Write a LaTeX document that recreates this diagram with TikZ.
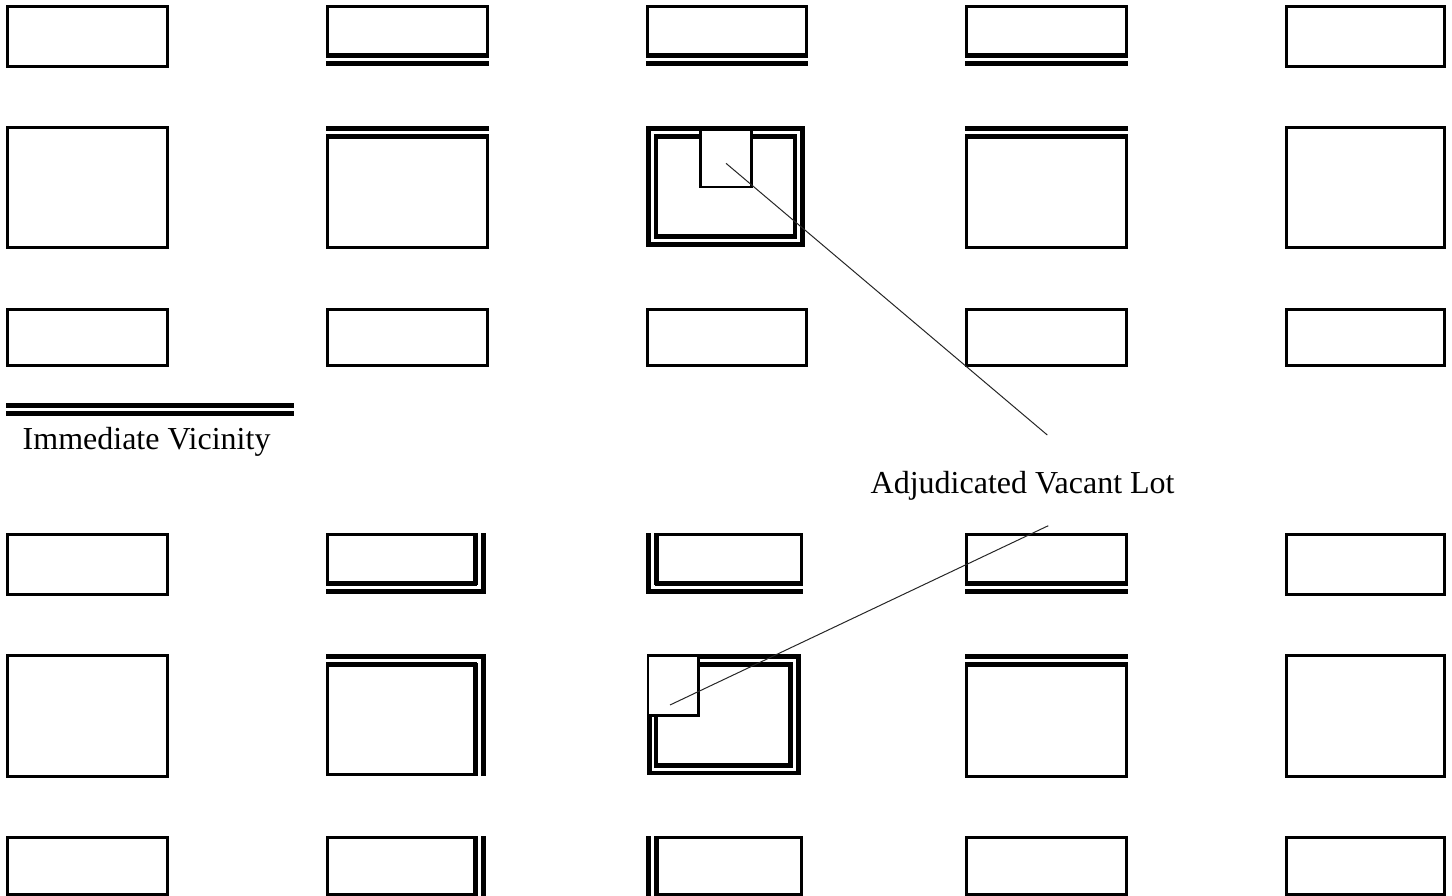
\documentclass[tikz,border=0pt]{standalone}
\usepackage{fontspec}
\setmainfont{Liberation Serif}
\tikzset{
  thinlot/.style={line width=3pt, line join=miter},
  dbl/.style={line width=4.7pt, line cap=butt},
  dblrect/.style={line width=4.8pt, line join=miter},
  leader/.style={line width=1pt, black!85},
  lbl/.style={anchor=base west, inner sep=0pt, font=\fontsize{32}{38}\selectfont},
  lotsq/.style={line width=2.7pt, fill=white, line join=miter}
}
% x0 y0 x1 y1 L T R B  (flags 1 = double line on that side)
\newcommand\lotbox[8]{%
  \pgfmathsetmacro\lotL{#1+1.5+9*#5}%
  \pgfmathsetmacro\lotT{#2+1.5+9*#6}%
  \pgfmathsetmacro\lotR{#3-1.5-9*#7}%
  \pgfmathsetmacro\lotB{#4-1.5-9*#8}%
  \draw[thinlot] (\lotL,\lotT) rectangle (\lotR,\lotB);
  \ifnum#5=1 \draw[dbl] (\lotL,\lotT-1.5) -- (\lotL,\lotB+1.5); \draw[dbl] (#1+2.35,#2) -- (#1+2.35,#4);\fi
  \ifnum#6=1 \draw[dbl] (\lotL-1.5,\lotT) -- (\lotR+1.5,\lotT); \draw[dbl] (#1,#2+2.35) -- (#3,#2+2.35);\fi
  \ifnum#7=1 \draw[dbl] (\lotR,\lotT-1.5) -- (\lotR,\lotB+1.5); \draw[dbl] (#3-2.35,#2) -- (#3-2.35,#4);\fi
  \ifnum#8=1 \draw[dbl] (\lotL-1.5,\lotB) -- (\lotR+1.5,\lotB); \draw[dbl] (#1,#4-2.35) -- (#3,#4-2.35);\fi
}
\begin{document}
\begin{tikzpicture}[x=1pt,y=-1pt]
\useasboundingbox (0,0) rectangle (1452,896);
% ---------- upper group ----------
% row 1
\lotbox{6}{5}{168.7}{67.7}{0}{0}{0}{0}
\lotbox{326}{5}{489}{65.7}{0}{0}{0}{1}
\lotbox{646}{5}{807.7}{65.7}{0}{0}{0}{1}
\lotbox{965}{5}{1128}{65.7}{0}{0}{0}{1}
\lotbox{1285}{5}{1446}{67.7}{0}{0}{0}{0}
% row 2
\lotbox{6}{126}{168.7}{249.3}{0}{0}{0}{0}
\lotbox{326}{126}{489}{249.3}{0}{1}{0}{0}
\lotbox{965}{126}{1128}{249.3}{0}{1}{0}{0}
\lotbox{1285}{126}{1446}{249.3}{0}{0}{0}{0}
% vacant block (upper)
\draw[dblrect] (656,136.3) rectangle (795,236.8);
\draw[dblrect] (648.4,128.4) rectangle (802.6,244.3);
\draw[lotsq] (700.7,129.7) rectangle (751.3,187);
% row 3
\lotbox{6}{307.7}{168.7}{367.3}{0}{0}{0}{0}
\lotbox{326}{307.7}{489}{367.3}{0}{0}{0}{0}
\lotbox{646}{307.7}{807.7}{367.3}{0}{0}{0}{0}
\lotbox{965}{307.7}{1128}{367.3}{0}{0}{0}{0}
\lotbox{1285}{307.7}{1446}{367.3}{0}{0}{0}{0}
% ---------- legend ----------
\draw[line width=4.4pt] (6,405.5) -- (294,405.5);
\draw[line width=4.4pt] (6,413.5) -- (294,413.5);
\node[lbl] (vicinity) at (22.5,449) {Immediate Vicinity};
% ---------- lower group ----------
% row 4
\lotbox{6}{533.3}{168.7}{596}{0}{0}{0}{0}
\lotbox{326}{533.3}{485.7}{594}{0}{0}{1}{1}
\lotbox{646}{533.3}{803.3}{594}{1}{0}{0}{1}
\lotbox{965}{533.3}{1128}{594}{0}{0}{0}{1}
\lotbox{1285}{533.3}{1446}{596}{0}{0}{0}{0}
% row 5
\lotbox{6}{654.3}{168.7}{777.7}{0}{0}{0}{0}
\lotbox{326}{654.3}{485.7}{776}{0}{1}{1}{0}
\lotbox{965}{654.3}{1128}{777.7}{0}{1}{0}{0}
\lotbox{1285}{654.3}{1446}{777.7}{0}{0}{0}{0}
% vacant block (lower)
\draw[dblrect] (656,664.5) rectangle (790.5,765.3);
\draw[dblrect] (649.1,656.7) rectangle (798.3,772.9);
\draw[lotsq] (648,655.6) rectangle (698.7,715.4);
% row 6
\lotbox{6}{836}{168.7}{896}{0}{0}{0}{0}
\lotbox{326}{836}{485.7}{896}{0}{0}{1}{0}
\lotbox{646}{836}{803.3}{896}{1}{0}{0}{0}
\lotbox{965}{836}{1128}{896}{0}{0}{0}{0}
\lotbox{1285}{836}{1446}{896}{0}{0}{0}{0}
% ---------- label and leaders ----------
\node[lbl] (vacant) at (870.5,493) {Adjudicated Vacant Lot};
\coordinate (lotA) at (726,163.3);
\coordinate (leadA) at (1047.3,435);
\coordinate (leadB) at (1048.3,525.7);
\coordinate (lotB) at (670,705);
\draw[leader] (lotA) -- (leadA);
\draw[leader] (leadB) -- (lotB);
\end{tikzpicture}
\end{document}
